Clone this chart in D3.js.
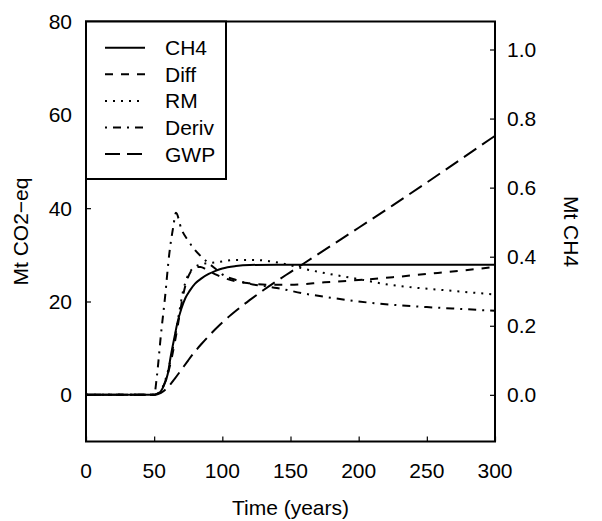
<!DOCTYPE html>
<html>
<head>
<meta charset="utf-8">
<script src="https://cdn.jsdelivr.net/npm/d3@7"></script>
<style>
  body { margin: 0; background: #fff; }
  text { font-family: "Liberation Sans", Arial, Helvetica, sans-serif; fill: #000; }
</style>
</head>
<body>
<script>
// Data (years vs Mt CO2-eq, CH4 in Mt)
let seriesNames = ['CH4', 'Diff', 'RM', 'Deriv', 'GWP'];

let ch4Years = [0, 50, 52, 55, 57, 60, 62, 65, 67, 70, 73, 76, 80, 85, 90, 95, 100, 110, 120, 140, 200, 300];
let ch4Mt = [0, 0, 0.003, 0.011, 0.026, 0.061, 0.108, 0.169, 0.208, 0.25, 0.281, 0.301, 0.322, 0.338, 0.35, 0.359, 0.366, 0.373, 0.376, 0.377, 0.377, 0.377];

let diffYears = [0, 50, 55, 60, 65, 68, 71, 74, 77, 80, 84, 88, 95, 100, 110, 120, 135, 150, 175, 200, 225, 250, 275, 300];
let diffVals = [0, 0, 1, 4.5, 11, 16, 21, 24.5, 26.5, 27.3, 27.4, 26.9, 25.8, 25.2, 24.3, 23.9, 23.6, 23.6, 24.1, 24.6, 25.2, 25.9, 26.6, 27.4];

let rmYears = [0, 50, 55, 60, 65, 68, 71, 74, 78, 85, 95, 100, 110, 120, 130, 145, 160, 175, 190, 200, 220, 240, 260, 280, 300];
let rmVals = [0, 0, 1, 5, 12, 17, 22, 25, 27, 28, 28.4, 28.6, 28.9, 28.9, 28.8, 28.1, 27, 26.1, 25.3, 24.8, 23.7, 23, 22.5, 22, 21.5];

let derivYears = [0, 50, 52, 55, 58, 61, 64, 66, 70, 75, 80, 85, 90, 95, 100, 110, 120, 140, 160, 180, 200, 225, 250, 275, 300];
let derivVals = [0, 0, 4, 13, 21, 30, 36, 39, 35.5, 33, 31, 29.5, 28.2, 27, 25.8, 24.6, 23.8, 22.9, 21.7, 20.8, 20, 19.3, 18.8, 18.4, 18];

let gwpYears = [0, 50, 55, 60, 65, 70, 75, 80, 85, 90, 95, 100, 110, 120, 130, 140, 150, 160, 180, 200, 225, 250, 275, 300];
let gwpVals = [0, 0, 0.4, 1.6, 3.4, 5.4, 7.4, 9.3, 11, 12.6, 14.1, 15.5, 18, 20.3, 22.4, 24.4, 26.3, 28.2, 32, 35.8, 40.6, 45.5, 50.5, 55.5];

let xTicks = [0, 50, 100, 150, 200, 250, 300];
let yTicks = [0, 20, 40, 60, 80];
let y2Ticks = [0, 0.2, 0.4, 0.6, 0.8, 1.0];

// Setup SVG
let margin = {top: 21.5, right: 107, bottom: 79.5, left: 86},
    width = 602 - margin.left - margin.right,
    height = 521 - margin.top - margin.bottom;

let svg = d3.select('body').append('svg')
    .attr('width', 602)
    .attr('height', 521);

let g = svg.append('g')
    .attr('transform', 'translate(' + margin.left + ',' + margin.top + ')');

let x = d3.scaleLinear().domain([0, 300]).range([0, width]);
let y = d3.scaleLinear().domain([-10, 80]).range([height, 0]);
// right axis: Mt CH4, zero lined up with the left zero
let co2PerCh4 = 74;
let y2 = d3.scaleLinear().domain([-10 / co2PerCh4, 80 / co2PerCh4]).range([height, 0]);

let dashes = {
    CH4: null,
    Diff: '8,8',
    RM: '2,6',
    Deriv: '2,6,8,6',
    GWP: '15,7'
};

let lines = [
    {name: 'CH4', pts: ch4Years.map((t, i) => [x(t), y2(ch4Mt[i])])},
    {name: 'Diff', pts: diffYears.map((t, i) => [x(t), y(diffVals[i])])},
    {name: 'RM', pts: rmYears.map((t, i) => [x(t), y(rmVals[i])])},
    {name: 'Deriv', pts: derivYears.map((t, i) => [x(t), y(derivVals[i])])},
    {name: 'GWP', pts: gwpYears.map((t, i) => [x(t), y(gwpVals[i])])}
];

let lineGen = d3.line().curve(d3.curveMonotoneX);

g.append('defs').append('clipPath').attr('id', 'clip')
    .append('rect').attr('width', width).attr('height', height);

lines.forEach(l => {
    g.append('path')
        .attr('clip-path', 'url(#clip)')
        .attr('d', lineGen(l.pts))
        .attr('fill', 'none')
        .attr('stroke', '#000')
        .attr('stroke-width', 2)
        .attr('stroke-dasharray', dashes[l.name]);
});

// Axes (ticks point inward)
let tickLen = 5;
let fmt1 = d3.format('.1f');
let fs = '21px';

let xAxis = g.append('g').attr('transform', `translate(0,${height})`)
    .call(d3.axisTop(x).tickValues(xTicks).tickSize(tickLen).tickFormat(''));
let yAxis = g.append('g')
    .call(d3.axisRight(y).tickValues(yTicks).tickSize(tickLen).tickFormat(''));
let y2Axis = g.append('g').attr('transform', `translate(${width},0)`)
    .call(d3.axisLeft(y2).tickValues(y2Ticks).tickSize(tickLen).tickFormat(''));
[xAxis, yAxis, y2Axis].forEach(a => {
    a.select('.domain').remove();
    a.selectAll('line').attr('stroke', '#000').attr('stroke-width', 1.2);
});

g.selectAll('.xlab').data(xTicks).enter().append('text')
    .attr('x', d => x(d)).attr('y', height + 36)
    .attr('text-anchor', 'middle').style('font-size', fs)
    .text(d => d);
g.selectAll('.ylab').data(yTicks).enter().append('text')
    .attr('x', -14).attr('y', d => y(d) + 7.5)
    .attr('text-anchor', 'end').style('font-size', fs)
    .text(d => d);
g.selectAll('.y2lab').data(y2Ticks).enter().append('text')
    .attr('x', width + 12).attr('y', d => y2(d) + 7.5)
    .attr('text-anchor', 'start').style('font-size', fs)
    .text(d => fmt1(d));

// Plot box
g.append('rect')
    .attr('width', width).attr('height', height)
    .attr('fill', 'none').attr('stroke', '#000').attr('stroke-width', 2);

// Axis titles
svg.append('text')
    .attr('x', margin.left + width / 2).attr('y', 515)
    .attr('text-anchor', 'middle').style('font-size', fs)
    .text('Time (years)');
svg.append('text')
    .attr('transform', `translate(28,${margin.top + y(35)}) rotate(-90)`)
    .attr('text-anchor', 'middle').style('font-size', fs)
    .text('Mt CO2\u2212eq');
svg.append('text')
    .attr('transform', `translate(564,${margin.top + y(35)}) rotate(90)`)
    .attr('text-anchor', 'middle').style('font-size', fs)
    .text('Mt CH4');

// Legend
let legend = g.append('g');
legend.append('rect')
    .attr('x', 0).attr('y', 0).attr('width', 140).attr('height', 157.5)
    .attr('fill', '#fff').attr('stroke', '#000').attr('stroke-width', 2);
seriesNames.forEach((name, i) => {
    let ly = 26.2 + i * 26.6;
    legend.append('line')
        .attr('x1', 19).attr('x2', 59).attr('y1', ly).attr('y2', ly)
        .attr('stroke', '#000').attr('stroke-width', 2)
        .attr('stroke-dasharray', dashes[name]);
    legend.append('text')
        .attr('x', 79).attr('y', ly + 7.5)
        .style('font-size', fs)
        .text(name);
});
</script>
</body>
</html>
